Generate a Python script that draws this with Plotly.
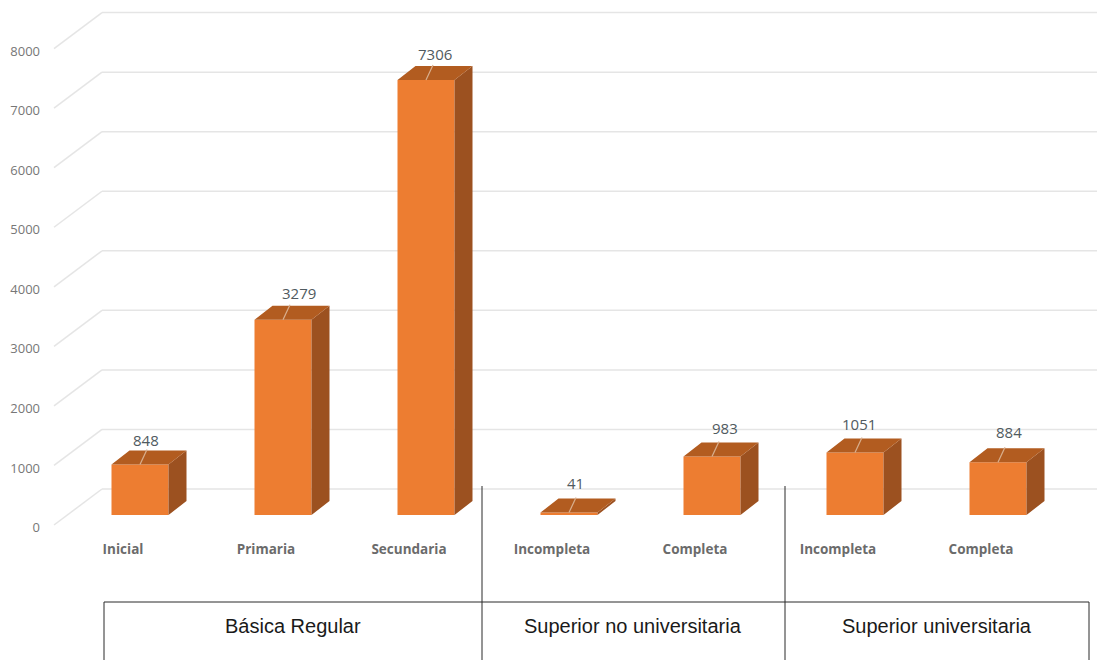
import plotly.graph_objects as go

# Education level counts, one bar per category
categories = ["Inicial", "Primaria", "Secundaria", "Incompleta", "Completa", "Incompleta", "Completa"]
values = [848, 3279, 7306, 41, 983, 1051, 884]
tick_values = [0, 1000, 2000, 3000, 4000, 5000, 6000, 7000, 8000]
group_names = ["Básica Regular", "Superior no universitaria", "Superior universitaria"]

# Page geometry of the plot area
WIDTH, HEIGHT = 1097, 660
PLOT_LEFT, PLOT_BOTTOM = 44, 536
ZERO_X, SLOT_W = 140, 143      # pixel of the first bar centre, spacing between bars
ZERO_Y, PX_PER_UNIT = 515, 0.05955  # pixel of value 0 on the bar front, pixels per unit


def dx(px):
    return px / SLOT_W


def dy(px):
    return px / PX_PER_UNIT


def paper_x(px):
    return (px - PLOT_LEFT) / (WIDTH - PLOT_LEFT)


def paper_y(px):
    return (PLOT_BOTTOM - px) / PLOT_BOTTOM


BAR_W = dx(57)
DEPTH_X, DEPTH_Y = dx(18), dy(14)
# Offsets of the chart floor: the front edge below the bars, the back wall behind them
WALL_FRONT_X, WALL_FRONT_Y = dx(54 - ZERO_X), dy(-10)
WALL_BACK_X, WALL_BACK_Y = dx(102 - ZERO_X), dy(26)
WALL_RIGHT_X = dx(1097 - ZERO_X)
TICK_LABEL_Y = dy(-12.5)

FRONT, TOP, SIDE = "#ED7D31", "#B25C20", "#9C5120"

positions = list(range(len(values)))
fig = go.Figure()

# Front faces
fig.add_trace(go.Bar(x=positions, y=values, width=BAR_W, marker=dict(color=FRONT, line_width=0),
                     hoverinfo="skip"))

# Side and top faces, sheared back from the front face
side_x, side_y, top_x, top_y = [], [], [], []
for i, v in zip(positions, values):
    left, right = i - BAR_W / 2, i + BAR_W / 2
    side_x += [right, right + DEPTH_X, right + DEPTH_X, right, right, None]
    side_y += [0, DEPTH_Y, v + DEPTH_Y, v, 0, None]
    top_x += [left, left + DEPTH_X, right + DEPTH_X, right, left, None]
    top_y += [v, v + DEPTH_Y, v + DEPTH_Y, v, v, None]
for xs, ys, colour in ((side_x, side_y, SIDE), (top_x, top_y, TOP)):
    fig.add_trace(go.Scatter(x=xs, y=ys, mode="lines", fill="toself", fillcolor=colour,
                             line=dict(width=0, color=colour), hoverinfo="skip"))

# Leader lines from the bar tops towards the value labels
leader_x, leader_y = [], []
for i, v in zip(positions, values):
    leader_x += [i, i + dx(7), None]
    leader_y += [v, v + dy(15), None]
fig.add_trace(go.Scatter(x=leader_x, y=leader_y, mode="lines",
                         line=dict(color="#D9B08F", width=1.2), hoverinfo="skip"))

# Back wall gridlines and the diagonal floor-to-wall segments
shapes = []
grid_line = dict(color="#E5E5E5", width=1.5)
for t in tick_values:
    back_y = t + WALL_BACK_Y
    shapes.append(dict(type="line", layer="below", xref="x", yref="y", x0=WALL_BACK_X, x1=WALL_RIGHT_X,
                       y0=back_y, y1=back_y, line=grid_line))
    shapes.append(dict(type="line", layer="below", xref="x", yref="y", x0=WALL_FRONT_X, x1=WALL_BACK_X,
                       y0=t + WALL_FRONT_Y, y1=back_y, line=grid_line))

# Group boxes under the axis
box_edges = [104, 482, 785, 1089]
box_top, divider_top = 602, 486
line_style = dict(color="#2A2A2A", width=1)
shapes.append(dict(type="line", xref="paper", yref="paper", x0=paper_x(box_edges[0]), x1=paper_x(box_edges[-1]),
                   y0=paper_y(box_top), y1=paper_y(box_top), line=line_style))
for px, top in zip(box_edges, [box_top, divider_top, divider_top, box_top]):
    shapes.append(dict(type="line", xref="paper", yref="paper", x0=paper_x(px), x1=paper_x(px),
                       y0=paper_y(top), y1=paper_y(HEIGHT), line=line_style))

annotations = []
# Value labels, nudged off each bar top
label_shift_x = [6, 16, 9, 6, 13, 4, 11]
label_shift_y = [25, 27, 26, 30, 28, 28, 30]
for i, v, sx, sy in zip(positions, values, label_shift_x, label_shift_y):
    annotations.append(dict(x=i, y=v, xref="x", yref="y", text=str(v), showarrow=False,
                            xshift=sx, yshift=sy, xanchor="center", yanchor="middle",
                            font=dict(family="Open Sans", size=15, color="#505A60")))

# Group captions inside the boxes
group_centres = [293, 633, 937]
for name, px in zip(group_names, group_centres):
    annotations.append(dict(x=paper_x(px), y=paper_y(626), xref="paper", yref="paper", text=name,
                            showarrow=False, xanchor="center", yanchor="middle",
                            font=dict(family="Liberation Sans", size=20, color="#1A1A1A")))

fig.update_layout(
    width=WIDTH, height=HEIGHT, autosize=False, showlegend=False,
    paper_bgcolor="white", plot_bgcolor="white",
    margin=dict(l=PLOT_LEFT, r=0, t=0, b=HEIGHT - PLOT_BOTTOM, pad=0),
    shapes=shapes, annotations=annotations,
    xaxis=dict(range=[dx(PLOT_LEFT - ZERO_X), dx(WIDTH - ZERO_X)], showgrid=False, zeroline=False, showline=False,
               tickmode="array", tickvals=[i - dx(17) for i in positions], ticktext=categories,
               ticks="", ticklabelstandoff=3,
               tickfont=dict(family="Open Sans", size=13.5, color="#6B6B6B", weight="bold")),
    yaxis=dict(range=[dy(ZERO_Y - PLOT_BOTTOM), dy(ZERO_Y)], showgrid=False, zeroline=False, showline=False,
               tickmode="array", tickvals=[t + TICK_LABEL_Y for t in tick_values],
               ticktext=[str(t) for t in tick_values], ticks="", ticklabelstandoff=3,
               tickfont=dict(family="Open Sans", size=13, color="#777777")),
)
fig.write_html("out.html", config=dict(displayModeBar=False))
